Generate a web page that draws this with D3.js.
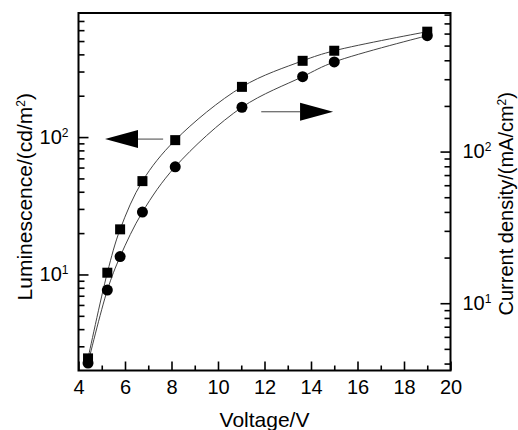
<!DOCTYPE html>
<html>
<head>
<meta charset="utf-8">
<script src="https://cdn.jsdelivr.net/npm/d3@7"></script>
<style>
  body { margin: 0; background: #fff; }
  text { font-family: "Liberation Sans", Arial, sans-serif; fill: #000; }
</style>
</head>
<body>
<div id="chart"></div>
<script>
const width = 518;
const height = 430;
const margin = { top: 13, right: 67.5, bottom: 59.5, left: 78.5 };

// values
const voltage = [4.41, 5.24, 5.79, 6.75, 8.16, 11.03, 13.64, 15.0, 19.0];
const luminescence = [2.45, 10.3, 21.3, 47.8, 95, 232, 359, 425, 585];
const currentDensity = [4.03, 12.2, 20.3, 39.9, 79.4, 196, 312, 390, 581];

const xTicks = [4, 6, 8, 10, 12, 14, 16, 18, 20];
const xMinorTicks = [5, 7, 9, 11, 13, 15, 17, 19];
const leftMajor = [10, 100];
const leftMinor = [3, 4, 5, 6, 7, 8, 9, 20, 30, 40, 50, 60, 70, 80, 90, 200, 300, 400, 500, 600, 700];
const rightMajor = [10, 100];
const rightMinor = [4, 5, 6, 7, 8, 9, 20, 30, 40, 50, 60, 70, 80, 90, 200, 300, 400, 500, 600, 700, 800];

// arrows: [tail V, tip V, value on its axis]
const leftArrow = [7.64, 5.14, 96.7];
const rightArrow = [11.86, 14.95, 183];

const x0 = margin.left;
const x1 = width - margin.right;
const y0 = height - margin.bottom;
const y1 = margin.top;

const xScale = d3.scaleLinear().domain([4, 20]).range([x0, x1]);
const yLeft = d3.scaleLog().domain([2, 800]).range([y0, y1]);
const yRight = d3.scaleLog().domain([3.6, 820]).range([y0, y1]);

const svg = d3
  .select("#chart")
  .append("svg")
  .attr("width", width)
  .attr("height", height);

const styleAxis = g => {
  g.select(".domain").remove();
  g.selectAll("line").attr("stroke", "#000").attr("stroke-width", 1.6);
  g.attr("font-family", null).attr("font-size", null);
};

const supLabels = g => {
  g.selectAll(".tick text")
    .style("font-size", "20px")
    .text(null)
    .call(t => {
      t.append("tspan").text("10");
      t.append("tspan")
        .attr("dy", "-0.6em")
        .style("font-size", "12px")
        .text(d => Math.round(Math.log10(d)));
    });
};

// x axis
svg.append("g")
  .attr("transform", `translate(0,${y0})`)
  .call(d3.axisBottom(xScale).tickValues(xMinorTicks).tickSize(-5).tickFormat(""))
  .call(styleAxis);

svg.append("g")
  .attr("transform", `translate(0,${y0})`)
  .call(d3.axisBottom(xScale).tickValues(xTicks).tickSize(-9).tickPadding(9).tickFormat(d3.format("d")))
  .call(styleAxis)
  .call(g => g.selectAll("text").style("font-size", "20px"));

// left axis
svg.append("g")
  .attr("transform", `translate(${x0},0)`)
  .call(d3.axisLeft(yLeft).tickValues(leftMinor).tickSize(-6).tickFormat(""))
  .call(styleAxis);

svg.append("g")
  .attr("transform", `translate(${x0},0)`)
  .call(d3.axisLeft(yLeft).tickValues(leftMajor).tickSize(-10).tickPadding(10))
  .call(styleAxis)
  .call(supLabels);

// right axis
svg.append("g")
  .attr("transform", `translate(${x1},0)`)
  .call(d3.axisRight(yRight).tickValues(rightMinor).tickSize(-6).tickFormat(""))
  .call(styleAxis);

svg.append("g")
  .attr("transform", `translate(${x1},0)`)
  .call(d3.axisRight(yRight).tickValues(rightMajor).tickSize(-10).tickPadding(12))
  .call(styleAxis)
  .call(supLabels);

// frame
svg.append("rect")
  .attr("x", x0)
  .attr("y", y1)
  .attr("width", x1 - x0)
  .attr("height", y0 - y1)
  .attr("fill", "none")
  .attr("stroke", "#000")
  .attr("stroke-width", 2);

// curves
const lumLine = d3.line()
  .x((d, i) => xScale(voltage[i]))
  .y(d => yLeft(d))
  .curve(d3.curveCatmullRom);

const curLine = d3.line()
  .x((d, i) => xScale(voltage[i]))
  .y(d => yRight(d))
  .curve(d3.curveCatmullRom);

svg.append("path")
  .datum(luminescence)
  .attr("fill", "none")
  .attr("stroke", "#444")
  .attr("stroke-width", 1)
  .attr("d", lumLine);

svg.append("path")
  .datum(currentDensity)
  .attr("fill", "none")
  .attr("stroke", "#444")
  .attr("stroke-width", 1)
  .attr("d", curLine);

// markers
svg.selectAll("rect.lum")
  .data(luminescence)
  .enter()
  .append("rect")
  .attr("class", "lum")
  .attr("x", (d, i) => xScale(voltage[i]) - 5)
  .attr("y", d => yLeft(d) - 5)
  .attr("width", 10)
  .attr("height", 10)
  .attr("fill", "#000");

svg.selectAll("circle.cur")
  .data(currentDensity)
  .enter()
  .append("circle")
  .attr("class", "cur")
  .attr("cx", (d, i) => xScale(voltage[i]))
  .attr("cy", d => yRight(d))
  .attr("r", 5.5)
  .attr("fill", "#000");

// arrows
const drawArrow = (a, scale) => {
  const xa = xScale(a[0]);
  const xb = xScale(a[1]);
  const y = scale(a[2]);
  const dir = Math.sign(xb - xa);
  const head = 33;
  svg.append("line")
    .attr("x1", xa)
    .attr("x2", xb - dir * head)
    .attr("y1", y)
    .attr("y2", y)
    .attr("stroke", "#444")
    .attr("stroke-width", 1);
  svg.append("path")
    .attr("d", `M${xb},${y}L${xb - dir * head},${y - 9}L${xb - dir * head},${y + 9}Z`)
    .attr("fill", "#000");
};
drawArrow(leftArrow, yLeft);
drawArrow(rightArrow, yRight);

// axis titles
const leftTitle = svg.append("text")
  .attr("transform", `translate(32,${(y0 + y1) / 2 + 5}) rotate(-90)`)
  .attr("text-anchor", "middle")
  .style("font-size", "21px");
leftTitle.append("tspan").text("Luminescence/(cd/m");
leftTitle.append("tspan").attr("dy", "-0.6em").style("font-size", "12px").text("2");
leftTitle.append("tspan").attr("dy", "0.36em").text(")");

const rightTitle = svg.append("text")
  .attr("transform", `translate(513,${(y0 + y1) / 2 + 12}) rotate(-90)`)
  .attr("text-anchor", "middle")
  .style("font-size", "20px");
rightTitle.append("tspan").text("Current density/(mA/cm");
rightTitle.append("tspan").attr("dy", "-0.6em").style("font-size", "12px").text("2");
rightTitle.append("tspan").attr("dy", "0.36em").text(")");

svg.append("text")
  .attr("x", (x0 + x1) / 2)
  .attr("y", 427)
  .attr("text-anchor", "middle")
  .style("font-size", "21px")
  .text("Voltage/V");
</script>
</body>
</html>
